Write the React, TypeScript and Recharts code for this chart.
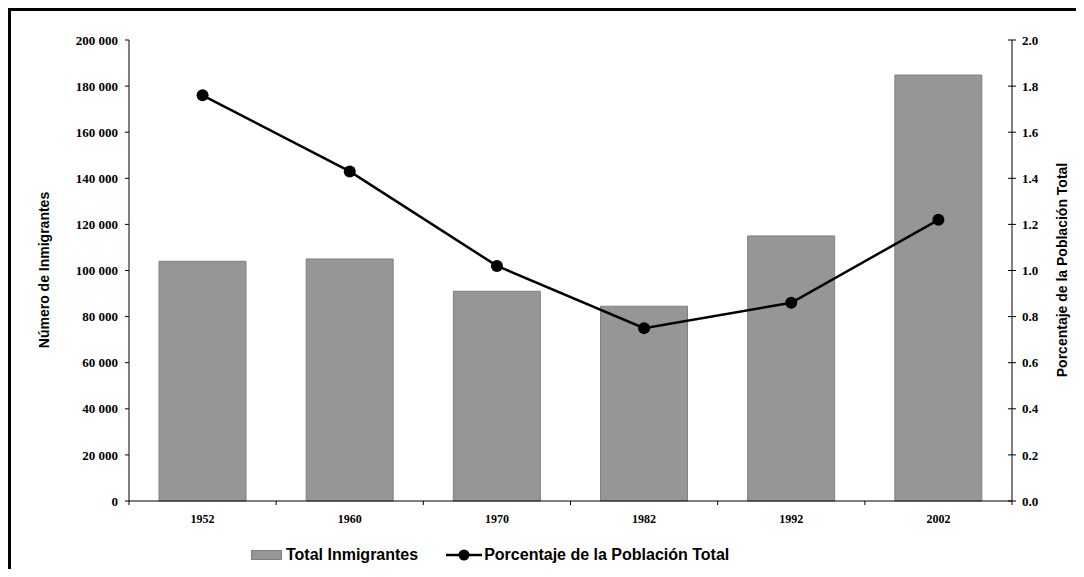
import { Bar, ComposedChart, Label, Line, XAxis, YAxis } from "recharts";

const YEARS = ["1952", "1960", "1970", "1982", "1992", "2002"];
const INMIGRANTES = [104000, 105000, 91000, 84500, 115000, 184800];
const PORCENTAJE = [1.76, 1.43, 1.02, 0.75, 0.86, 1.22];
const LEFT_TICKS = [0, 20000, 40000, 60000, 80000, 100000, 120000, 140000, 160000, 180000, 200000];
const RIGHT_TICKS = [0, 0.2, 0.4, 0.6, 0.8, 1.0, 1.2, 1.4, 1.6, 1.8, 2.0];

const DATA = YEARS.map((y, i) => ({ y, total: INMIGRANTES[i], pct: PORCENTAJE[i] }));

const SERIF = "'Liberation Serif', 'Times New Roman', serif";
const SANS = "'Liberation Sans', Arial, sans-serif";
const TICK = { fontFamily: SERIF, fontWeight: 700, fontSize: 13, fill: "#000" };

const fmtThousands = (v: number) =>
  v === 0 ? "0" : `${Math.floor(v / 1000)} ${String(v % 1000).padStart(3, "0")}`;

function RightTick(props: any) {
  const { x, y, payload } = props;
  const ax = x - 4 - 6;
  return (
    <g>
      <line x1={ax - 4} x2={ax + 4} y1={y} y2={y} stroke="#000" />
      <text x={x} y={y} dy="0.355em" textAnchor="start" {...TICK}>
        {Number(payload.value).toFixed(1)}
      </text>
    </g>
  );
}

function XTick(props: any) {
  const { x, y, payload, index, visibleTicksCount } = props;
  const half = payload.offset ?? 73.6;
  const ay = y - 12;
  return (
    <g>
      <line x1={x - half} x2={x - half} y1={ay} y2={ay + 4} stroke="#000" />
      {index === visibleTicksCount - 1 && (
        <line x1={x + half} x2={x + half} y1={ay} y2={ay + 4} stroke="#000" />
      )}
      <text x={x} y={ay + 18} dy="0.355em" textAnchor="middle" {...TICK} fontSize={12}>
        {payload.value}
      </text>
    </g>
  );
}

function VTitle({ viewBox, text, dx }: any) {
  const cx = viewBox.x + dx;
  const cy = 259;
  return (
    <text
      x={cx}
      y={cy}
      transform={`rotate(-90, ${cx}, ${cy})`}
      textAnchor="middle"
      dominantBaseline="central"
      fontFamily={SANS}
      fontWeight={700}
      fontSize={14}
      fill="#000"
    >
      {text}
    </text>
  );
}

export default function App() {
  return (
    <div
      style={{
        position: "relative",
        width: 1068,
        height: 569,
        marginBottom: -8,
        overflow: "hidden",
        background: "#fff",
        borderLeft: "3px solid #000",
        borderTop: "3px solid #000",
        boxSizing: "border-box",
      }}
    >
      <style>{"html, body { overflow: hidden; }"}</style>
      <ComposedChart
        width={1065}
        height={566}
        data={DATA}
        margin={{ top: 29, right: 0, bottom: 0, left: 0 }}
        barCategoryGap={0}
      >
        <XAxis
          dataKey="y"
          height={76}
          axisLine={{ stroke: "#000" }}
          tickLine={false}
          tickSize={4}
          tickMargin={8}
          tick={<XTick />}
          interval={0}
        />
        <YAxis
          yAxisId="left"
          width={118}
          domain={[0, 200000]}
          ticks={LEFT_TICKS}
          tickFormatter={fmtThousands}
          axisLine={{ stroke: "#000" }}
          tickLine={{ stroke: "#000" }}
          tickSize={4}
          tickMargin={7}
          tick={TICK}
          interval={0}
        >
          <Label content={(p: any) => <VTitle {...p} text="Número de Inmigrantes" dx={33} />} />
        </YAxis>
        <YAxis
          yAxisId="right"
          orientation="right"
          width={64}
          domain={[0, 2]}
          ticks={RIGHT_TICKS}
          axisLine={{ stroke: "#000" }}
          tickLine={false}
          tickSize={4}
          tickMargin={6}
          tick={<RightTick />}
          interval={0}
        >
          <Label content={(p: any) => <VTitle {...p} text="Porcentaje de la Población Total" dx={50} />} />
        </YAxis>
        <Bar
          yAxisId="left"
          dataKey="total"
          name="Total Inmigrantes"
          fill="#969696"
          stroke="#808080"
          strokeWidth={1}
          barSize={87}
          isAnimationActive={false}
        />
        <Line
          yAxisId="right"
          dataKey="pct"
          name="Porcentaje de la Población Total"
          type="linear"
          stroke="#000"
          strokeWidth={2.5}
          dot={{ r: 6, fill: "#000", stroke: "#000", strokeWidth: 0 }}
          isAnimationActive={false}
        />
      </ComposedChart>
      <div
        style={{
          position: "absolute",
          left: 240,
          top: 534,
          height: 20,
          display: "flex",
          alignItems: "center",
          fontFamily: SANS,
          fontWeight: 700,
          fontSize: 16,
          color: "#000",
          whiteSpace: "nowrap",
        }}
      >
        <span style={{ width: 31, height: 10, background: "#969696", border: "1px solid #808080", boxSizing: "border-box" }} />
        <span style={{ marginLeft: 4 }}>Total Inmigrantes</span>
        <svg width={36} height={14} style={{ marginLeft: 28 }}>
          <line x1={0} x2={36} y1={7} y2={7} stroke="#000" strokeWidth={2.5} />
          <circle cx={18} cy={7} r={5.5} fill="#000" />
        </svg>
        <span style={{ marginLeft: 2 }}>Porcentaje de la Población Total</span>
      </div>
    </div>
  );
}
